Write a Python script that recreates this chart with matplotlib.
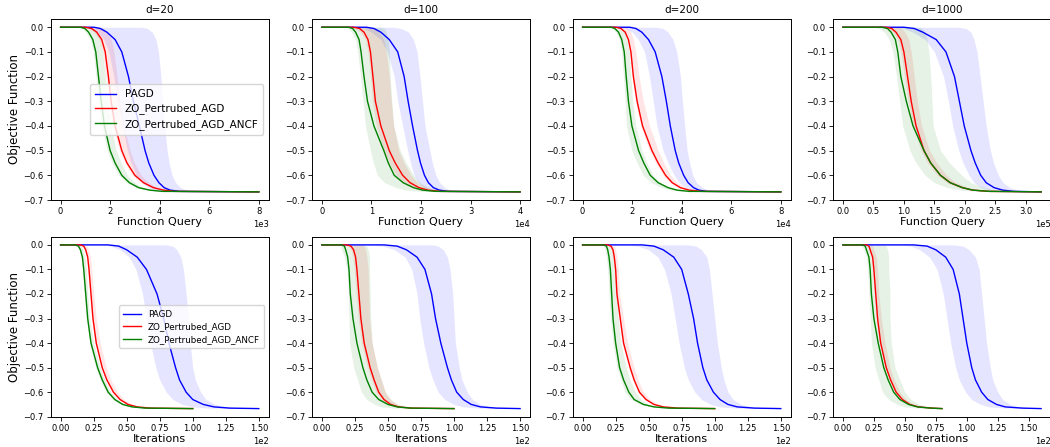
import numpy as np
import matplotlib
matplotlib.use("Agg")
import matplotlib.pyplot as plt

LEVELS = [0.0, -0.005, -0.02, -0.05, -0.1, -0.2, -0.3, -0.4, -0.5, -0.55, -0.6, -0.63, -0.65, -0.66, -0.665]
FINAL = -0.667

DIMS = ["d=20", "d=100", "d=200", "d=1000"]
METHODS = ["PAGD", "ZO_Pertrubed_AGD", "ZO_Pertrubed_AGD_ANCF"]
COLORS = ["b", "r", "g"]

# ---- function queries (x in units of the axis offset) ----
Q_SCALE = [1e3, 1e4, 1e4, 1e5]
Q_END = [8.0, 4.0, 8.0, 3.25]

q20_pagd = [1.35, 1.6, 1.87, 2.2, 2.47, 2.74, 2.94, 3.18, 3.41, 3.56, 3.77, 3.97, 4.18, 4.42, 4.8]
q20_pagd_lo = [0.9, 1.2, 1.5, 1.75, 1.95, 2.15, 2.3, 2.5, 2.7, 2.85, 3.05, 3.3, 3.55, 3.9, 4.3]
q20_pagd_hi = [3.3, 3.5, 3.7, 3.85, 3.95, 4.05, 4.12, 4.2, 4.3, 4.38, 4.5, 4.65, 4.85, 5.1, 5.5]
q20_agd = [1.0, 1.25, 1.46, 1.66, 1.8, 1.93, 2.04, 2.2, 2.47, 2.68, 3.0, 3.35, 3.75, 4.15, 4.6]
q20_agd_lo = [0.85, 1.12, 1.35, 1.56, 1.7, 1.83, 1.94, 2.1, 2.38, 2.6, 2.9, 3.25, 3.65, 4.1, 4.5]
q20_agd_hi = [1.6, 1.75, 1.9, 2.05, 2.15, 2.28, 2.4, 2.55, 2.8, 2.98, 3.25, 3.55, 3.9, 4.3, 4.7]
q20_ancf = [0.8, 0.98, 1.13, 1.3, 1.42, 1.53, 1.64, 1.77, 2.0, 2.2, 2.47, 2.78, 3.15, 3.6, 4.1]
q20_ancf_lo = [0.7, 0.87, 1.02, 1.2, 1.32, 1.43, 1.53, 1.66, 1.88, 2.08, 2.35, 2.65, 3.05, 3.5, 4.0]
q20_ancf_hi = [1.2, 1.32, 1.45, 1.6, 1.7, 1.8, 1.9, 2.03, 2.25, 2.45, 2.7, 3.0, 3.35, 3.8, 4.3]

q100_pagd = [0.9, 1.05, 1.19, 1.36, 1.53, 1.66, 1.74, 1.83, 1.93, 1.99, 2.07, 2.15, 2.25, 2.37, 2.55]
q100_pagd_lo = [0.64, 0.85, 1.0, 1.19, 1.32, 1.46, 1.53, 1.63, 1.73, 1.79, 1.86, 1.95, 2.07, 2.2, 2.4]
q100_pagd_hi = [1.45, 1.6, 1.75, 1.85, 1.92, 1.98, 2.03, 2.08, 2.18, 2.23, 2.3, 2.38, 2.48, 2.6, 2.8]
q100_agd = [0.64, 0.76, 0.85, 0.93, 0.98, 1.03, 1.08, 1.19, 1.36, 1.48, 1.63, 1.78, 1.96, 2.14, 2.4]
q100_agd_lo = [0.5, 0.66, 0.78, 0.88, 0.93, 0.98, 1.02, 1.1, 1.25, 1.36, 1.5, 1.63, 1.8, 2.0, 2.25]
q100_agd_hi = [1.0, 1.08, 1.15, 1.25, 1.3, 1.36, 1.4, 1.45, 1.55, 1.66, 1.8, 1.93, 2.12, 2.3, 2.55]
q100_ancf = [0.54, 0.62, 0.68, 0.75, 0.79, 0.85, 0.92, 1.05, 1.25, 1.34, 1.46, 1.64, 1.85, 2.03, 2.3]
q100_ancf_lo = [0.45, 0.53, 0.6, 0.68, 0.72, 0.78, 0.83, 0.88, 0.98, 1.04, 1.12, 1.27, 1.5, 1.7, 2.0]
q100_ancf_hi = [1.2, 1.26, 1.3, 1.34, 1.36, 1.38, 1.41, 1.45, 1.58, 1.7, 1.85, 1.98, 2.15, 2.35, 2.6]

q200_pagd = [1.9, 2.15, 2.39, 2.66, 2.93, 3.2, 3.38, 3.54, 3.74, 3.88, 4.08, 4.26, 4.48, 4.69, 5.0]
q200_pagd_lo = [1.5, 1.75, 2.0, 2.25, 2.5, 2.7, 2.85, 3.0, 3.25, 3.45, 3.7, 3.9, 4.15, 4.4, 4.8]
q200_pagd_hi = [3.0, 3.25, 3.45, 3.65, 3.8, 3.95, 4.03, 4.12, 4.22, 4.32, 4.45, 4.6, 4.85, 5.1, 5.5]
q200_agd = [1.35, 1.55, 1.72, 1.85, 1.95, 2.05, 2.2, 2.42, 2.8, 3.05, 3.35, 3.62, 3.95, 4.3, 4.8]
q200_agd_lo = [1.3, 1.48, 1.65, 1.8, 1.9, 2.0, 2.14, 2.35, 2.7, 2.95, 3.25, 3.52, 3.85, 4.2, 4.7]
q200_agd_hi = [1.7, 1.83, 1.95, 2.05, 2.15, 2.28, 2.45, 2.7, 3.05, 3.28, 3.55, 3.82, 4.15, 4.5, 5.0]
q200_ancf = [1.15, 1.3, 1.45, 1.58, 1.68, 1.76, 1.85, 1.99, 2.26, 2.47, 2.73, 3.05, 3.45, 3.81, 4.3]
q200_ancf_lo = [1.05, 1.2, 1.35, 1.48, 1.57, 1.65, 1.72, 1.77, 1.99, 2.2, 2.45, 2.78, 3.2, 3.6, 4.1]
q200_ancf_hi = [1.5, 1.6, 1.7, 1.8, 1.88, 1.95, 2.02, 2.15, 2.4, 2.6, 2.85, 3.15, 3.55, 3.9, 4.4]

q1000_pagd = [1.0, 1.17, 1.31, 1.53, 1.69, 1.83, 1.91, 1.99, 2.1, 2.17, 2.26, 2.35, 2.48, 2.62, 2.8]
q1000_pagd_lo = [0.8, 1.0, 1.15, 1.35, 1.5, 1.65, 1.73, 1.8, 1.9, 1.97, 2.07, 2.15, 2.27, 2.4, 2.6]
q1000_pagd_hi = [1.9, 2.02, 2.1, 2.15, 2.2, 2.25, 2.3, 2.35, 2.42, 2.47, 2.55, 2.63, 2.74, 2.85, 3.0]
q1000_agd = [0.7, 0.8, 0.87, 0.95, 1.0, 1.06, 1.12, 1.2, 1.33, 1.44, 1.6, 1.76, 1.96, 2.13, 2.4]
q1000_agd_lo = [0.65, 0.75, 0.82, 0.9, 0.95, 1.01, 1.07, 1.15, 1.28, 1.39, 1.55, 1.71, 1.91, 2.08, 2.35]
q1000_agd_hi = [0.9, 0.97, 1.02, 1.08, 1.12, 1.17, 1.22, 1.29, 1.42, 1.54, 1.7, 1.86, 2.05, 2.2, 2.45]
q1000_ancf = [0.64, 0.73, 0.79, 0.86, 0.9, 0.95, 1.04, 1.15, 1.33, 1.44, 1.6, 1.76, 1.96, 2.13, 2.4]
q1000_ancf_lo = [0.5, 0.6, 0.68, 0.76, 0.82, 0.88, 0.93, 0.98, 1.1, 1.2, 1.35, 1.5, 1.72, 1.95, 2.25]
q1000_ancf_hi = [1.25, 1.3, 1.35, 1.38, 1.41, 1.44, 1.46, 1.48, 1.6, 1.75, 1.95, 2.1, 2.32, 2.5, 2.75]

# ---- iterations (x in units of 1e2) ----
I_SCALE = [1e2, 1e2, 1e2, 1e2]
I_END_PAGD = [1.5, 1.5, 1.5, 1.6]
I_END_ZO = [1.0, 1.0, 1.0, 0.8]

i20_pagd = [0.36, 0.44, 0.5, 0.58, 0.65, 0.73, 0.78, 0.82, 0.87, 0.9, 0.95, 1.0, 1.08, 1.16, 1.28]
i20_pagd_lo = [0.3, 0.38, 0.45, 0.52, 0.57, 0.62, 0.65, 0.68, 0.72, 0.75, 0.8, 0.85, 0.92, 1.0, 1.12]
i20_pagd_hi = [0.8, 0.85, 0.88, 0.91, 0.93, 0.95, 0.97, 0.98, 1.0, 1.02, 1.06, 1.1, 1.17, 1.25, 1.38]
i20_agd = [0.15, 0.175, 0.19, 0.205, 0.215, 0.23, 0.245, 0.27, 0.315, 0.35, 0.4, 0.45, 0.51, 0.58, 0.68]
i20_agd_lo = [0.14, 0.165, 0.18, 0.195, 0.205, 0.22, 0.235, 0.26, 0.305, 0.34, 0.39, 0.44, 0.5, 0.57, 0.67]
i20_agd_hi = [0.18, 0.2, 0.21, 0.225, 0.235, 0.25, 0.27, 0.3, 0.345, 0.38, 0.43, 0.48, 0.54, 0.6, 0.7]
i20_ancf = [0.11, 0.135, 0.15, 0.165, 0.175, 0.19, 0.205, 0.23, 0.28, 0.315, 0.36, 0.41, 0.47, 0.54, 0.64]
i20_ancf_lo = [0.1, 0.125, 0.14, 0.155, 0.165, 0.18, 0.195, 0.22, 0.265, 0.3, 0.345, 0.395, 0.455, 0.53, 0.63]
i20_ancf_hi = [0.14, 0.155, 0.17, 0.185, 0.195, 0.205, 0.22, 0.25, 0.3, 0.335, 0.38, 0.43, 0.49, 0.56, 0.66]

i100_pagd = [0.47, 0.57, 0.64, 0.72, 0.78, 0.83, 0.86, 0.9, 0.95, 0.98, 1.02, 1.07, 1.13, 1.2, 1.32]
i100_pagd_lo = [0.35, 0.46, 0.55, 0.63, 0.68, 0.72, 0.74, 0.77, 0.81, 0.84, 0.88, 0.93, 1.0, 1.07, 1.2]
i100_pagd_hi = [0.84, 0.88, 0.92, 0.95, 0.97, 0.99, 1.0, 1.01, 1.04, 1.06, 1.1, 1.14, 1.2, 1.28, 1.4]
i100_agd = [0.19, 0.22, 0.24, 0.255, 0.265, 0.28, 0.295, 0.32, 0.365, 0.395, 0.43, 0.47, 0.52, 0.58, 0.68]
i100_agd_lo = [0.17, 0.2, 0.22, 0.235, 0.245, 0.26, 0.275, 0.3, 0.345, 0.375, 0.41, 0.45, 0.5, 0.56, 0.66]
i100_agd_hi = [0.3, 0.32, 0.33, 0.34, 0.35, 0.355, 0.36, 0.38, 0.42, 0.45, 0.48, 0.52, 0.57, 0.62, 0.72]
i100_ancf = [0.15, 0.17, 0.18, 0.195, 0.205, 0.215, 0.235, 0.265, 0.31, 0.34, 0.38, 0.43, 0.5, 0.57, 0.67]
i100_ancf_lo = [0.12, 0.14, 0.15, 0.17, 0.19, 0.2, 0.205, 0.21, 0.24, 0.27, 0.3, 0.34, 0.4, 0.45, 0.55]
i100_ancf_hi = [0.32, 0.34, 0.35, 0.36, 0.36, 0.365, 0.37, 0.38, 0.42, 0.45, 0.48, 0.52, 0.58, 0.65, 0.75]

i200_pagd = [0.45, 0.54, 0.61, 0.69, 0.75, 0.8, 0.84, 0.87, 0.91, 0.94, 0.99, 1.04, 1.1, 1.17, 1.3]
i200_pagd_lo = [0.32, 0.42, 0.5, 0.57, 0.62, 0.67, 0.7, 0.73, 0.77, 0.8, 0.85, 0.9, 0.97, 1.04, 1.17]
i200_pagd_hi = [0.8, 0.86, 0.9, 0.94, 0.96, 0.98, 1.0, 1.02, 1.05, 1.07, 1.1, 1.14, 1.2, 1.28, 1.4]
i200_agd = [0.19, 0.215, 0.23, 0.24, 0.25, 0.26, 0.285, 0.31, 0.36, 0.39, 0.43, 0.48, 0.54, 0.61, 0.72]
i200_agd_lo = [0.18, 0.205, 0.22, 0.23, 0.24, 0.25, 0.275, 0.3, 0.35, 0.38, 0.42, 0.47, 0.53, 0.6, 0.71]
i200_agd_hi = [0.22, 0.24, 0.25, 0.26, 0.27, 0.28, 0.31, 0.34, 0.39, 0.42, 0.46, 0.51, 0.57, 0.63, 0.74]
i200_ancf = [0.16, 0.18, 0.19, 0.2, 0.21, 0.22, 0.23, 0.25, 0.28, 0.31, 0.35, 0.39, 0.46, 0.54, 0.65]
i200_ancf_lo = [0.14, 0.16, 0.17, 0.18, 0.19, 0.2, 0.21, 0.23, 0.26, 0.29, 0.32, 0.37, 0.44, 0.52, 0.63]
i200_ancf_hi = [0.2, 0.22, 0.23, 0.24, 0.25, 0.26, 0.27, 0.29, 0.33, 0.36, 0.4, 0.44, 0.5, 0.57, 0.68]

i1000_pagd = [0.57, 0.68, 0.75, 0.83, 0.89, 0.94, 0.97, 1.0, 1.04, 1.07, 1.12, 1.17, 1.24, 1.31, 1.45]
i1000_pagd_lo = [0.45, 0.55, 0.62, 0.7, 0.76, 0.81, 0.84, 0.87, 0.91, 0.94, 0.99, 1.04, 1.11, 1.18, 1.32]
i1000_pagd_hi = [0.9, 0.97, 1.02, 1.07, 1.1, 1.12, 1.14, 1.16, 1.19, 1.21, 1.25, 1.29, 1.35, 1.42, 1.55]
i1000_agd = [0.19, 0.21, 0.22, 0.24, 0.25, 0.265, 0.28, 0.305, 0.35, 0.385, 0.43, 0.48, 0.54, 0.61, 0.72]
i1000_agd_lo = [0.18, 0.2, 0.21, 0.23, 0.24, 0.255, 0.27, 0.295, 0.34, 0.375, 0.42, 0.47, 0.53, 0.6, 0.71]
i1000_agd_hi = [0.23, 0.24, 0.25, 0.27, 0.28, 0.29, 0.31, 0.34, 0.38, 0.415, 0.46, 0.51, 0.57, 0.63, 0.74]
i1000_ancf = [0.16, 0.18, 0.19, 0.21, 0.22, 0.23, 0.25, 0.285, 0.33, 0.365, 0.41, 0.46, 0.53, 0.6, 0.71]
i1000_ancf_lo = [0.13, 0.15, 0.17, 0.19, 0.2, 0.21, 0.22, 0.23, 0.26, 0.29, 0.32, 0.37, 0.44, 0.5, 0.6]
i1000_ancf_hi = [0.33, 0.35, 0.36, 0.37, 0.37, 0.38, 0.38, 0.39, 0.42, 0.46, 0.5, 0.55, 0.62, 0.68, 0.78]

top_rows = [
    [(q20_pagd, q20_pagd_lo, q20_pagd_hi), (q20_agd, q20_agd_lo, q20_agd_hi), (q20_ancf, q20_ancf_lo, q20_ancf_hi)],
    [(q100_pagd, q100_pagd_lo, q100_pagd_hi), (q100_agd, q100_agd_lo, q100_agd_hi), (q100_ancf, q100_ancf_lo, q100_ancf_hi)],
    [(q200_pagd, q200_pagd_lo, q200_pagd_hi), (q200_agd, q200_agd_lo, q200_agd_hi), (q200_ancf, q200_ancf_lo, q200_ancf_hi)],
    [(q1000_pagd, q1000_pagd_lo, q1000_pagd_hi), (q1000_agd, q1000_agd_lo, q1000_agd_hi), (q1000_ancf, q1000_ancf_lo, q1000_ancf_hi)],
]
bottom_rows = [
    [(i20_pagd, i20_pagd_lo, i20_pagd_hi), (i20_agd, i20_agd_lo, i20_agd_hi), (i20_ancf, i20_ancf_lo, i20_ancf_hi)],
    [(i100_pagd, i100_pagd_lo, i100_pagd_hi), (i100_agd, i100_agd_lo, i100_agd_hi), (i100_ancf, i100_ancf_lo, i100_ancf_hi)],
    [(i200_pagd, i200_pagd_lo, i200_pagd_hi), (i200_agd, i200_agd_lo, i200_agd_hi), (i200_ancf, i200_ancf_lo, i200_ancf_hi)],
    [(i1000_pagd, i1000_pagd_lo, i1000_pagd_hi), (i1000_agd, i1000_agd_lo, i1000_agd_hi), (i1000_ancf, i1000_ancf_lo, i1000_ancf_hi)],
]


def draw_curve(ax, mean, lo, hi, scale, x_end, color, label):
    lev = np.array(LEVELS + [FINAL])
    xm = np.array([0.0] + mean + [x_end]) * scale
    ym = np.concatenate([[0.0], lev])
    xlo = np.array(lo + [hi[-1]]) * scale
    xhi = np.array(hi + [hi[-1]]) * scale
    ax.fill_betweenx(lev, xlo, xhi, color=color, alpha=0.1, linewidth=0)
    ax.plot(xm, ym, color=color, lw=1.0, label=label)


fig = plt.figure(figsize=(10.5, 4.47), dpi=100)
W, H = 1050.0, 447.0
lefts = [50.7, 312.0, 572.7, 833.0]
ax_w = 218.0
rows_px = [(19.0, 200.0), (236.7, 416.7)]

for r in range(2):
    top, bot = rows_px[r]
    for c in range(4):
        ax = fig.add_axes([lefts[c] / W, 1 - bot / H, ax_w / W, (bot - top) / H])
        if r == 0:
            curves = top_rows[c]
            for k in range(3):
                m, lo, hi = curves[k]
                draw_curve(ax, m, lo, hi, Q_SCALE[c], Q_END[c], COLORS[k], METHODS[k])
            ax.set_xlabel("Function Query", fontsize=8, labelpad=1)
            ax.set_title(DIMS[c], fontsize=7.5, pad=4)
        else:
            curves = bottom_rows[c]
            for k in range(3):
                m, lo, hi = curves[k]
                end = I_END_PAGD[c] if k == 0 else I_END_ZO[c]
                draw_curve(ax, m, lo, hi, I_SCALE[c], end, COLORS[k], METHODS[k])
            ax.set_xlabel("Iterations", fontsize=8, labelpad=1)
        ax.set_ylim(-0.7, 0.0334)
        ax.set_yticks(np.arange(-0.7, 0.01, 0.1))
        ax.ticklabel_format(style="sci", axis="x", scilimits=(0, 0))
        ax.tick_params(labelsize=6, length=3, width=0.6, pad=2)
        ax.xaxis.get_offset_text().set_fontsize(6)
        for s in ax.spines.values():
            s.set_linewidth(0.7)
        if c == 0:
            ax.set_ylabel("Objective Function", fontsize=8.5, labelpad=2)
            fs = 7.5 if r == 0 else 6.3
            ax.legend(loc="center right", fontsize=fs, handlelength=2.0,
                      borderpad=0.5, labelspacing=0.4)

fig.savefig("out.png", dpi=100)
